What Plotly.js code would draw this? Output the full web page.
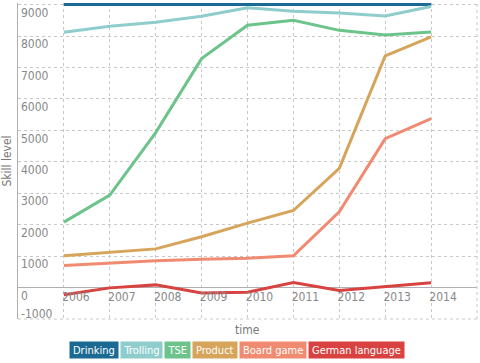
<!DOCTYPE html>
<html><head><meta charset="utf-8">
<script src="https://cdn.plot.ly/plotly-3.0.1.min.js"></script>
<style>html,body{margin:0;padding:0;background:#fff}#chart{width:480px;height:363px}</style>
</head><body><div id="chart"></div>
<script>
const years = [2006, 2007, 2008, 2009, 2010, 2011, 2012, 2013, 2014];
const seriesNames = ["Drinking", "Trolling", "TSE", "Product", "Board game", "German language"];
const drinking = [9000, 9000, 9000, 9000, 9000, 9000, 9000, 9000, 9000];
const trolling = [8120, 8310, 8440, 8630, 8900, 8790, 8730, 8640, 8940];
const tse = [2080, 2940, 4930, 7280, 8340, 8500, 8180, 8030, 8130];
const product = [1010, 1125, 1230, 1615, 2050, 2450, 3790, 7370, 7970];
const boardGame = [700, 785, 850, 900, 935, 1010, 2410, 4735, 5370];
const german = [-230, -10, 85, -170, -150, 160, -95, 20, 150];
const yTicks = [-1000, 0, 1000, 2000, 3000, 4000, 5000, 6000, 7000, 8000, 9000];
const xTicks = [2006, 2007, 2008, 2009, 2010, 2011, 2012, 2013, 2014];
const colors = ["#1b6a93", "#8fcdcd", "#6cc48a", "#d6a45a", "#f08a70", "#d84240"];
const allSeries = [drinking, trolling, tse, product, boardGame, german];

const FAM = "'Liberation Sans Narrow', 'DejaVu Sans Condensed', 'DejaVu Sans', sans-serif";

const traces = allSeries.map((vals, i) => ({
  x: years, y: vals, name: seriesNames[i], type: "scatter", mode: "lines",
  line: {color: colors[i], width: 3}, showlegend: false
}));
// empty trace so the label-only overlay axis is drawn
traces.push({x: [], y: [], yaxis: "y2", type: "scatter", mode: "lines", showlegend: false});

const L = 18, W = 459, T = 3, H = 316;
const yRange = [-1000, 9050];
const labelDrop = 8; // px the y labels sit below their gridlines
const dy = labelDrop * (yRange[1] - yRange[0]) / H;
const annotations = [];

// legend boxes laid out from measured text widths
const cv = document.createElement("canvas").getContext("2d");
function tw(s, size) { cv.font = size + "px " + FAM; return cv.measureText(s).width; }
const lsize = 11, padX = 3, gap = 3;
const widths = seriesNames.map(n => tw(n, lsize) + 2 * padX);
const totalW = widths.reduce((a, b) => a + b, 0) + gap * (seriesNames.length - 1);
let cx = 237 - totalW / 2;
seriesNames.forEach((n, i) => {
  const c = cx + widths[i] / 2;
  annotations.push({
    xref: "paper", yref: "paper", x: (c - L) / W, y: (T + H - 350) / H,
    xanchor: "center", yanchor: "middle", showarrow: false,
    text: n, font: {family: FAM, size: lsize, color: "#ffffff"},
    width: widths[i] - 2, height: 14, bgcolor: colors[i], borderpad: 1
  });
  cx += widths[i] + gap;
});
// bottom tick label (sits above the bottom edge, as in the reference)
annotations.push({
  xref: "paper", yref: "y", x: 0, y: yTicks[0], xanchor: "left", yanchor: "middle",
  xshift: 1, yshift: 5, showarrow: false, text: String(yTicks[0]),
  font: {family: FAM, size: 12, color: "#888"}
});
annotations.push({
  xref: "paper", yref: "paper", x: 0.5, y: (T + H - 330) / H, xanchor: "center", yanchor: "middle",
  showarrow: false, text: "time", font: {family: FAM, size: 12, color: "#777"}
});

const layout = {
  width: 480, height: 363,
  margin: {l: L, r: 480 - L - W, t: T, b: 363 - T - H},
  paper_bgcolor: "#fff", plot_bgcolor: "#fff",
  xaxis: {
    range: [2005, 2015], tickvals: xTicks, ticktext: xTicks.map(String),
    anchor: "free", position: (0 - yRange[0]) / (yRange[1] - yRange[0]),
    showgrid: true, gridcolor: "#c8c8c8", griddash: "dot", gridwidth: 1,
    zeroline: false, showline: false, ticks: "",
    ticklabelshift: 12, tickfont: {family: FAM, size: 12, color: "#888"}
  },
  yaxis: {
    range: yRange, tickvals: yTicks.slice(1), showticklabels: false,
    showgrid: true, gridcolor: "#c8c8c8", griddash: "dot", gridwidth: 1,
    zeroline: true, zerolinecolor: "#b0b0b0", zerolinewidth: 1.5,
    showline: true, linecolor: "#b0b0b0", linewidth: 1.5, ticks: "",
    title: {text: "Skill level", font: {family: FAM, size: 12, color: "#777"}, standoff: 2}
  },
  yaxis2: {
    overlaying: "y", side: "left", anchor: "x",
    range: [yRange[0] + dy, yRange[1] + dy],
    tickvals: yTicks.slice(1), ticktext: yTicks.slice(1).map(String),
    ticklabelposition: "inside", showgrid: false, zeroline: false, showline: false, ticks: "",
    tickfont: {family: FAM, size: 12, color: "#888"}
  },
  shapes: [
    {type: "line", xref: "paper", yref: "paper", x0: 0, x1: 1, y0: 0, y1: 0, line: {color: "#c8c8c8", width: 1, dash: "dot"}},
    {type: "line", xref: "paper", yref: "paper", x0: 1, x1: 1, y0: 0, y1: 1, line: {color: "#c8c8c8", width: 1, dash: "dot"}}
  ],
  annotations: annotations
};
Plotly.newPlot("chart", traces, layout, {displayModeBar: false, staticPlot: true});
</script></body></html>
